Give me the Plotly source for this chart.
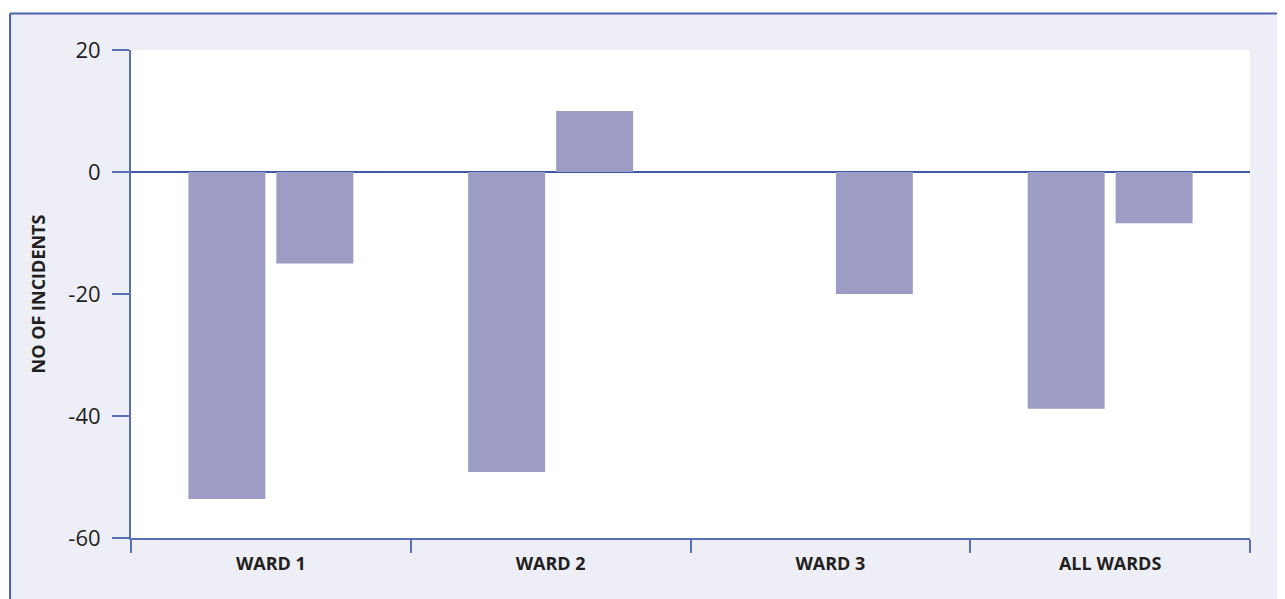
import plotly.graph_objects as go

categories = ["WARD 1", "WARD 2", "WARD 3", "ALL WARDS"]
series_a = [-53.6, -49.2, 0, -38.8]
series_b = [-15, 10, -20, -8.4]
y_ticks = [-60, -40, -20, 0, 20]
y_tick_text = ["-60", "-40", "-20", "0", "20"]

bar_color = "#9d9cc5"
axis_color = "#5a70b5"
zero_color = "#3f58a6"
bg_color = "#eeeef6"
border_color = "#4a62ad"
text_color = "#231f20"

fig = go.Figure()
fig.add_trace(go.Bar(x=categories, y=series_a, marker=dict(color=bar_color, line=dict(width=0)),
                     showlegend=False))
fig.add_trace(go.Bar(x=categories, y=series_b, marker=dict(color=bar_color, line=dict(width=0)),
                     showlegend=False))

fig.update_layout(
    width=1277, height=591,
    margin=dict(l=123, r=35, t=42, b=61),
    paper_bgcolor=bg_color,
    plot_bgcolor="white",
    barmode="group",
    bargap=0.371,
    bargroupgap=0.125,
    font=dict(family="Open Sans", color=text_color),
    xaxis=dict(
        showgrid=False,
        showline=True, linecolor=axis_color, linewidth=2,
        ticks="outside", tickson="boundaries", ticklen=13, tickwidth=2, tickcolor=axis_color,
        tickfont=dict(size=18, family="Open Sans", weight="bold", color=text_color),
        ticklabelstandoff=8,
    ),
    yaxis=dict(
        range=[-60, 20],
        tickvals=y_ticks,
        ticktext=y_tick_text,
        showgrid=False,
        showline=True, linecolor=axis_color, linewidth=2,
        ticks="outside", ticklen=17, tickwidth=2, tickcolor=axis_color,
        tickfont=dict(size=22, family="Open Sans", color=text_color),
        ticklabelstandoff=7,
        zeroline=False,
        title=dict(text="NO OF INCIDENTS", standoff=18,
                   font=dict(size=18, family="Open Sans", weight="bold", color=text_color)),
    ),
    shapes=[
        dict(type="rect", xref="paper", yref="paper", x0=-0.2, x1=1.2, y0=1.075, y1=1.2,
             fillcolor="white", line=dict(width=0)),
        dict(type="rect", xref="paper", yref="paper", x0=-0.2, x1=-0.1081, y0=-0.3, y1=1.2,
             fillcolor="white", line=dict(width=0)),
        dict(type="line", xref="paper", yref="y", x0=0, x1=1, y0=0, y1=0,
             line=dict(color=zero_color, width=2), layer="below"),
        dict(type="line", xref="paper", yref="paper", x0=-0.1081, x1=1.2, y0=1.075, y1=1.075,
             line=dict(color=border_color, width=2)),
        dict(type="line", xref="paper", yref="paper", x0=-0.1081, x1=-0.1081, y0=1.075, y1=-0.3,
             line=dict(color=border_color, width=2)),
    ],
)

fig.write_html("out.html")
